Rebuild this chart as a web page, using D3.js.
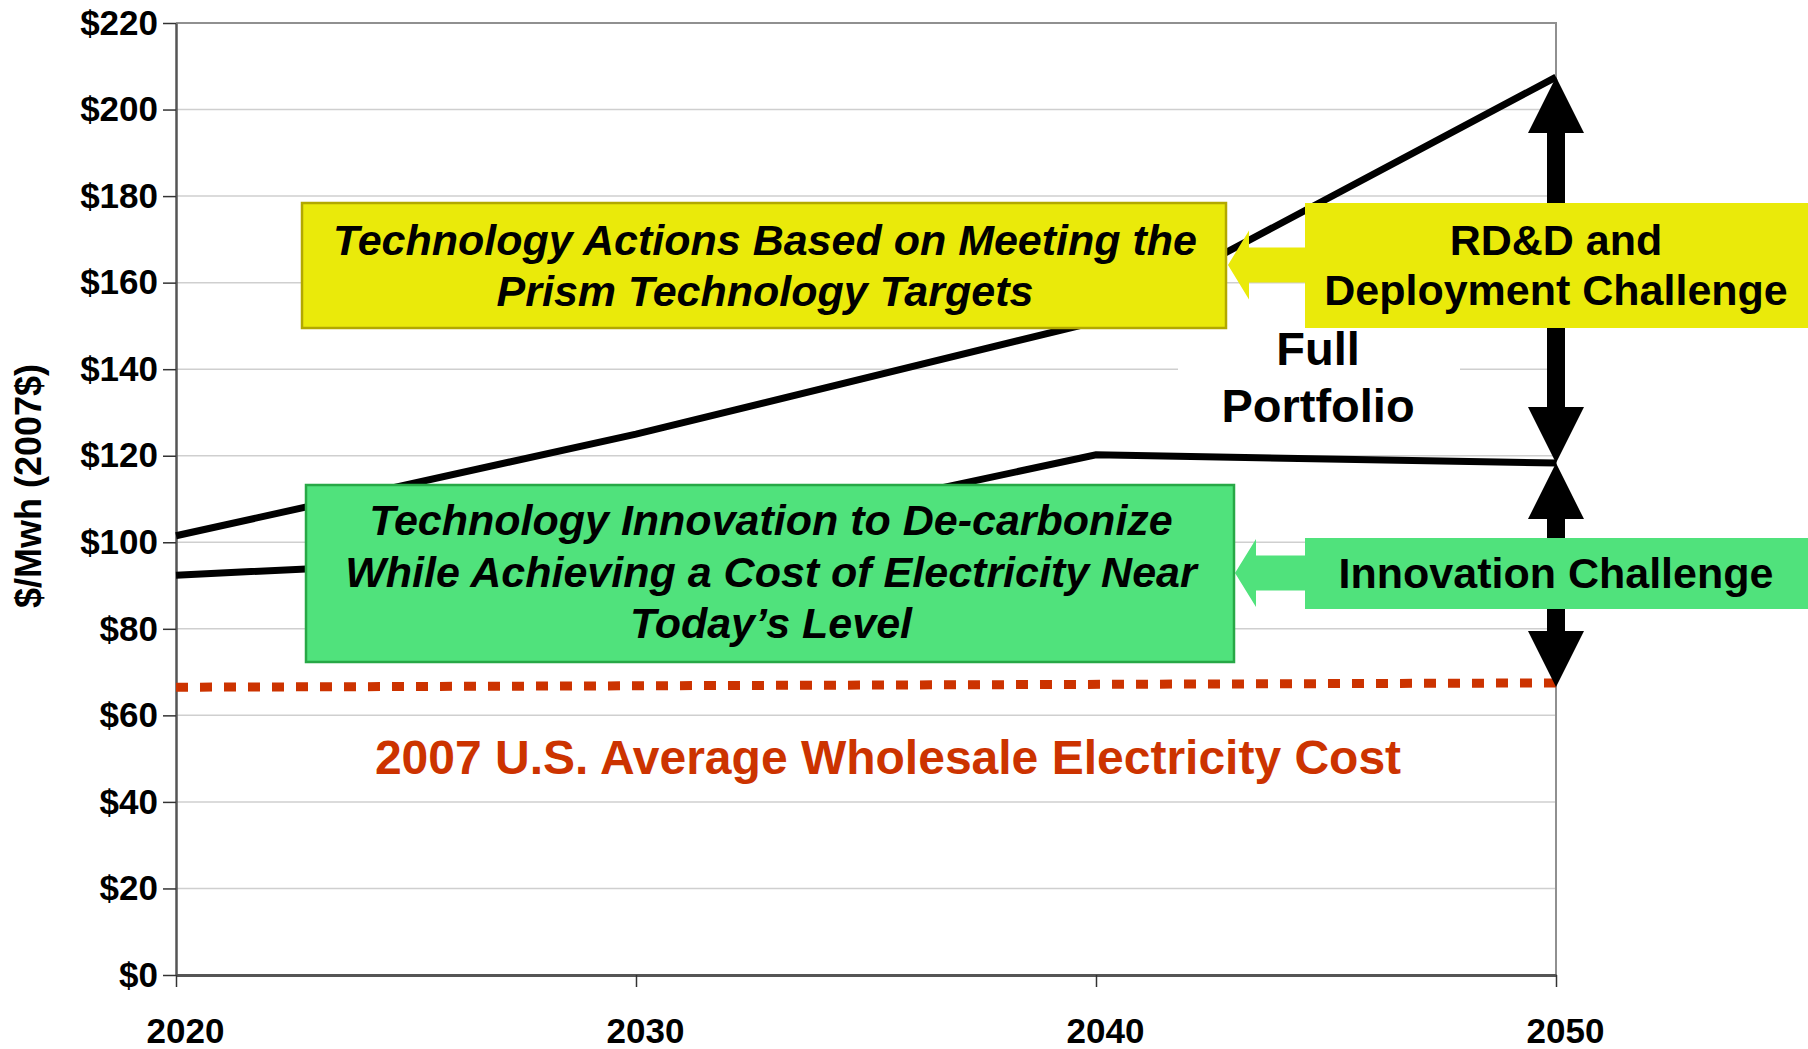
<!DOCTYPE html>
<html>
<head>
<meta charset="utf-8">
<script src="https://cdn.jsdelivr.net/npm/d3@7"></script>
<style>
  body { margin: 0; background: #fff; }
  svg { display: block; font-family: "Liberation Sans", Arial, sans-serif; font-weight: bold; }
</style>
</head>
<body>
<div id="chart-area"></div>
<script>
// values
const years = [2020, 2030, 2040, 2050]
const fullPortfolio = [101.5, 125, 151, 207.5]
const innovation = [92.4, 97.5, 120.2, 118.3]
const wholesaleYears = [2020, 2050]
const wholesale = [66.5, 67.5]
const yTicks = [0, 20, 40, 60, 80, 100, 120, 140, 160, 180, 200, 220]
const xTicks = [2020, 2030, 2040, 2050]

const yTitle = "$/Mwh (2007$)"
const wholesaleLabel = "2007 U.S. Average Wholesale Electricity Cost"
const actionsText = ["Technology Actions Based on Meeting the", "Prism Technology Targets"]
const innovationText = ["Technology Innovation to De-carbonize", "While Achieving a Cost of Electricity Near", "Today\u2019s Level"]
const rddText = ["RD&D and", "Deployment Challenge"]
const innovChallengeText = ["Innovation Challenge"]
const portfolioText = ["Full", "Portfolio"]

const W = 1808, H = 1049
const LEFT = 176, RIGHT = 1556, TOP = 23, BOTTOM = 975
const YELLOW = "#eaea0a", YELLOW_EDGE = "#b2a800"
const GREEN = "#50e27c", GREEN_EDGE = "#27a846"
const RED = "#cc3300"

const svg = d3.select("#chart-area").append("svg")
	.attr("width", W)
	.attr("height", H)

const x = d3.scaleLinear().domain([2020, 2050]).range([LEFT, RIGHT])
const y = d3.scaleLinear().domain([0, 220]).range([BOTTOM, TOP])

// gridlines
svg.append("g")
	.selectAll("line")
	.data(yTicks.filter(d => d > 0 && d < 220))
	.enter().append("line")
	.attr("x1", LEFT).attr("x2", RIGHT)
	.attr("y1", d => y(d)).attr("y2", d => y(d))
	.attr("stroke", "#cfcfcf")
	.attr("stroke-width", 1.5)

// frame top / right
svg.append("path")
	.attr("d", `M${LEFT},${y(220)}H${RIGHT}V${BOTTOM}`)
	.attr("fill", "none")
	.attr("stroke", "#909090")
	.attr("stroke-width", 2)

// y axis
const yAxis = svg.append("g")
	.attr("transform", `translate(${LEFT},0)`)
	.call(d3.axisLeft(y).tickValues(yTicks).tickSize(13).tickSizeOuter(0).tickPadding(5)
		.tickFormat(d => "$" + d))
yAxis.select(".domain").attr("stroke", "#555").attr("stroke-width", 2.5)
yAxis.selectAll(".tick line").attr("stroke", "#333").attr("stroke-width", 1.5)
yAxis.selectAll("text")
	.attr("font-size", 35)
	.attr("font-family", "Liberation Sans, Arial, sans-serif")
	.attr("font-weight", "bold")
	.attr("fill", "#000")

// x axis
const xAxis = svg.append("g")
	.attr("transform", `translate(0,${BOTTOM})`)
	.call(d3.axisBottom(x).tickValues(xTicks).tickSize(12).tickSizeOuter(0).tickFormat(d3.format("d")))
xAxis.select(".domain").attr("stroke", "#555").attr("stroke-width", 3)
xAxis.selectAll(".tick line").attr("stroke", "#333").attr("stroke-width", 1.5)
xAxis.selectAll("text")
	.attr("y", 68).attr("dy", 0).attr("dx", 9)
	.attr("font-size", 35)
	.attr("font-family", "Liberation Sans, Arial, sans-serif")
	.attr("font-weight", "bold")
	.attr("fill", "#000")

// Y label
svg.append("text")
	.attr("transform", `translate(41,${486}) rotate(-90)`)
	.attr("text-anchor", "middle")
	.attr("font-size", 36)
	.text(yTitle)

// white patch behind "Full Portfolio"
svg.append("rect")
	.attr("x", 1178).attr("y", 332)
	.attr("width", 282).attr("height", 106)
	.attr("fill", "#fff")

// data lines
const line = d3.line().x(d => x(d[0])).y(d => y(d[1]))
svg.append("path")
	.datum(d3.zip(years, fullPortfolio))
	.attr("d", line)
	.attr("fill", "none")
	.attr("stroke", "#000")
	.attr("stroke-width", 7)
svg.append("path")
	.datum(d3.zip(years, innovation))
	.attr("d", line)
	.attr("fill", "none")
	.attr("stroke", "#000")
	.attr("stroke-width", 7)

// wholesale cost, dotted
svg.append("path")
	.datum(d3.zip(wholesaleYears, wholesale))
	.attr("d", line)
	.attr("fill", "none")
	.attr("stroke", RED)
	.attr("stroke-width", 9)
	.attr("stroke-dasharray", "12,12")

svg.append("text")
	.attr("x", 888).attr("y", 774)
	.attr("text-anchor", "middle")
	.attr("font-size", 48)
	.attr("fill", RED)
	.text(wholesaleLabel)

// black double arrows at 2050
function doubleArrow(x0, yTop, yBot) {
	const hw = 28, hl = 56, sw = 9
	const p = d3.path()
	p.moveTo(x0, yTop)
	p.lineTo(x0 + hw, yTop + hl)
	p.lineTo(x0 + sw, yTop + hl)
	p.lineTo(x0 + sw, yBot - hl)
	p.lineTo(x0 + hw, yBot - hl)
	p.lineTo(x0, yBot)
	p.lineTo(x0 - hw, yBot - hl)
	p.lineTo(x0 - sw, yBot - hl)
	p.lineTo(x0 - sw, yTop + hl)
	p.lineTo(x0 - hw, yTop + hl)
	p.closePath()
	svg.append("path").attr("d", p.toString()).attr("fill", "#000")
}
const last = years.length - 1
doubleArrow(x(2050), y(fullPortfolio[last]), y(innovation[last]))
doubleArrow(x(2050), y(innovation[last]), y(wholesale[wholesale.length - 1]) + 4)

// left-pointing block arrows
function blockArrow(tipX, cy, baseX, endX, headH, shaftH, fill) {
	const pts = [
		[tipX, cy], [baseX, cy - headH / 2], [baseX, cy - shaftH / 2], [endX, cy - shaftH / 2],
		[endX, cy + shaftH / 2], [baseX, cy + shaftH / 2], [baseX, cy + headH / 2]
	]
	svg.append("path").attr("d", "M" + pts.join("L") + "Z").attr("fill", fill)
}
blockArrow(1228, 265, 1249, 1310, 69, 35, YELLOW)
blockArrow(1235, 573, 1256, 1310, 68, 35, GREEN)

// boxes with text
function box(x0, y0, w, h, fill, edge, lines, cx, baselines, size, italic) {
	svg.append("rect")
		.attr("x", x0).attr("y", y0).attr("width", w).attr("height", h)
		.attr("fill", fill)
		.attr("stroke", edge || "none")
		.attr("stroke-width", edge ? 2.5 : 0)
	svg.append("g").selectAll("text")
		.data(lines)
		.enter().append("text")
		.attr("x", cx)
		.attr("y", (d, i) => baselines[i])
		.attr("text-anchor", "middle")
		.attr("font-size", size)
		.attr("font-style", italic ? "italic" : "normal")
		.attr("fill", "#000")
		.text(d => d)
}
box(302, 203, 924, 125, YELLOW, YELLOW_EDGE, actionsText, 765, [255, 306], 43, true)
box(306, 485, 928, 177, GREEN, GREEN_EDGE, innovationText, 771, [535, 587, 638], 43, true)
box(1305, 203, 503, 125, YELLOW, null, rddText, 1556, [255, 305], 43, false)
box(1305, 538, 503, 71, GREEN, null, innovChallengeText, 1556, [588], 43, false)

svg.append("g").selectAll("text")
	.data(portfolioText)
	.enter().append("text")
	.attr("x", 1318)
	.attr("y", (d, i) => [365, 422][i])
	.attr("text-anchor", "middle")
	.attr("font-size", 47)
	.text(d => d)
</script>
</body>
</html>
